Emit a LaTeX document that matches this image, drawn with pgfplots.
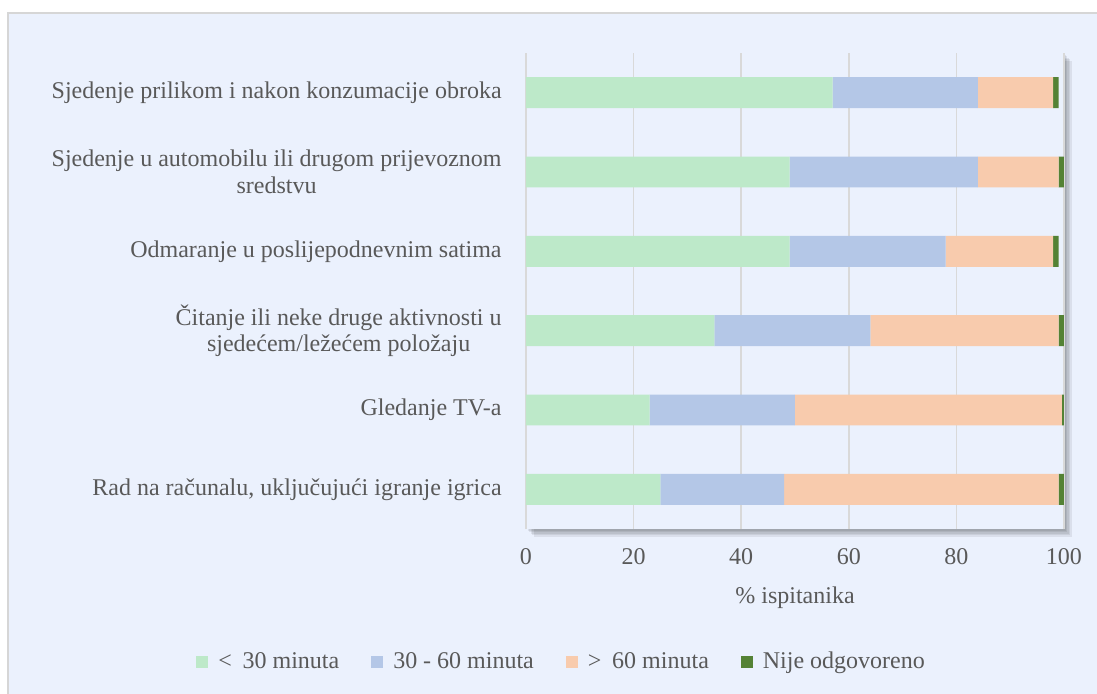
\documentclass[border=0pt]{standalone}
\usepackage{fontspec}
\setmainfont{Liberation Serif}
\usepackage{pgfplots}
\pgfplotsset{compat=1.18}
\definecolor{bgc}{RGB}{235,241,253}
\definecolor{framec}{RGB}{214,214,214}
\definecolor{gridc}{RGB}{217,217,217}
\definecolor{txt}{RGB}{89,89,89}
\definecolor{cA}{RGB}{189,233,201}
\definecolor{cB}{RGB}{180,199,231}
\definecolor{cC}{RGB}{248,203,173}
\definecolor{cD}{RGB}{84,130,53}
\newcommand{\lf}{\fontsize{12}{13.4}\selectfont}
\begin{document}
\begin{tikzpicture}[x=1pt,y=1pt]
\useasboundingbox (-263,-82) rectangle (285.5,264.5);
\fill[white] (-263,-82) rectangle (285.5,264.5);
\fill[bgc] (-259,-90) rectangle (300,258);
\draw[framec,line width=1pt] (-259,-90) -- (-259,258) -- (300,258);
\foreach \d in {0.8,1.6,2.4,3.2,4.0} {
  \fill[black,opacity=0.07] (\d,-\d) rectangle (269+\d,238-\d);
}
\fill[bgc] (0,0) rectangle (269,238);
\begin{axis}[
  scale only axis, width=269pt, height=238pt,
  xbar stacked, bar width=0.39,
  xmin=0, xmax=100, ymin=-0.5, ymax=5.5,
  xtick={0,20,...,100}, ytick={0,...,5},
  yticklabels={
    {Rad na računalu, uključujući igranje igrica},
    {Gledanje TV-a},
    {Čitanje ili neke druge aktivnosti u\\sjedećem/ležećem položaju},
    {Odmaranje u poslijepodnevnim satima},
    {Sjedenje u automobilu ili drugom prijevoznom\\sredstvu},
    {Sjedenje prilikom i nakon konzumacije obroka}},
  axis line style={draw=none},
  major tick length=0pt,
  xmajorgrids, grid style={gridc, line width=0.8pt},
  tick label style={text=txt, font=\lf},
  /pgf/number format/assume math mode=true,
  xticklabel style={yshift=-6pt},
  yticklabel style={align=center, inner sep=0pt, xshift=-12pt},
  xlabel={\% ispitanika},
  xlabel style={at={(axis description cs:0.5,-0.145)}, anchor=center, text=txt, font=\lf},
  legend style={at={(axis description cs:0.068,-0.279)}, anchor=center,
    legend columns=4, draw=none, fill=none, text=txt, font=\lf,
    /tikz/every odd column/.append style={column sep=3pt},
    /tikz/every even column/.append style={column sep=14pt}},
  legend image code/.code={\draw[#1,draw=none] (0pt,-3pt) rectangle (6pt,3pt);},
]
\addplot[fill=cA, draw=none] coordinates {(25,0) (23,1) (35,2) (49,3) (49,4) (57,5)};
\addplot[fill=cB, draw=none] coordinates {(23,0) (27,1) (29,2) (29,3) (35,4) (27,5)};
\addplot[fill=cC, draw=none] coordinates {(51,0) (49.6,1) (35,2) (20,3) (15,4) (14,5)};
\addplot[fill=cD, draw=none] coordinates {(1,0) (0.4,1) (1,2) (1,3) (1,4) (1,5)};
\legend{{<\hspace{0.45em}30 minuta},{30 - 60 minuta},{>\hspace{0.45em}60 minuta},{Nije odgovoreno}}
\end{axis}
\end{tikzpicture}
\end{document}
